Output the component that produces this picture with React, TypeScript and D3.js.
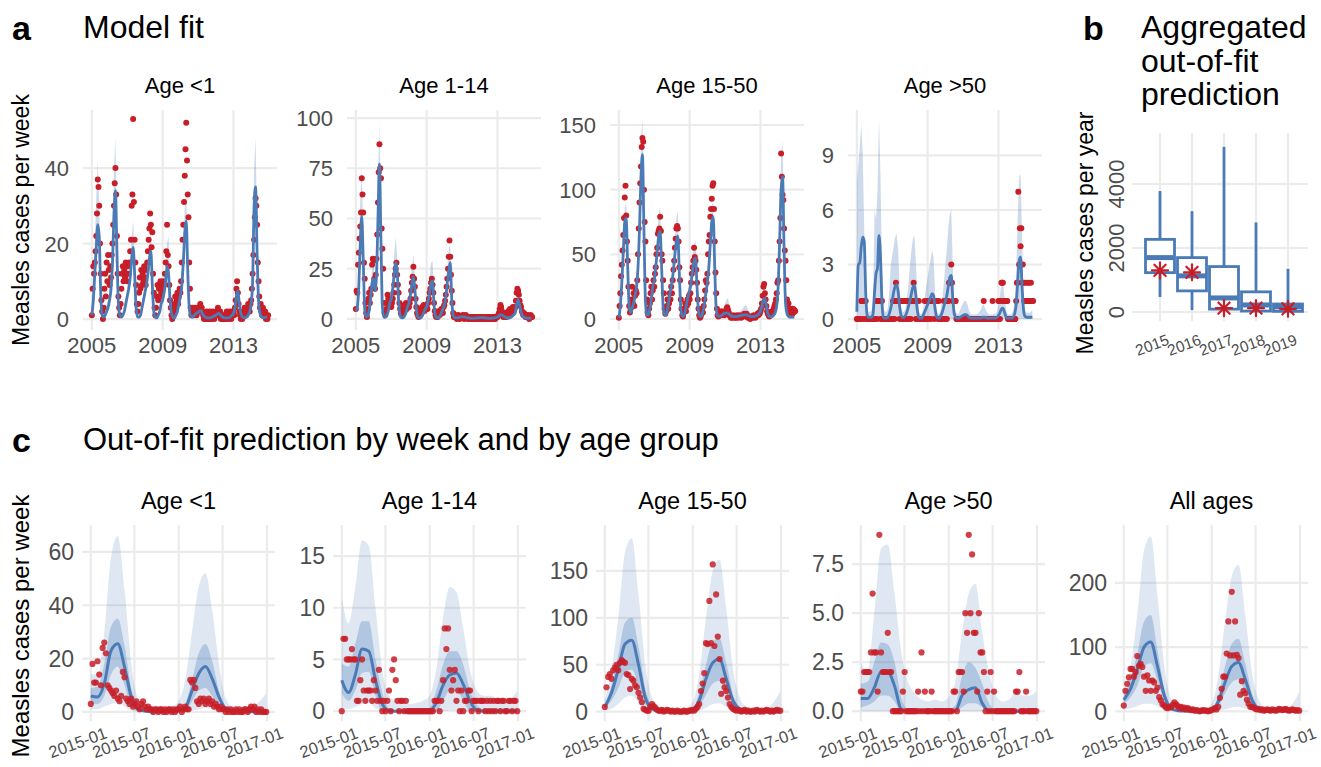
import React from 'react'
import * as d3 from 'd3'

const FONT = 'Liberation Sans, Arial, Helvetica, sans-serif'
const GRID = '#ebebeb'
const BLUE = '#4a7bb7'
const RED = '#c81e28'
const TICK = '#4d4d4d'

// ---------- panel a: model fit 2005-2014 ----------
// observed cases, read twice a month (24 per year)
const obsU1 = [
  1, 8, 14, 12, 15, 18, 22, 28, 37, 35, 30, 20, 12, 5, 2, 0, 3, 8, 12, 6, 15, 10, 17, 13,
  9, 14, 11, 17, 20, 25, 30, 36, 40, 33, 22, 12, 6, 3, 1, 4, 8, 12, 14, 10, 13, 11, 15, 12,
  10, 14, 12, 15, 18, 21, 30, 33, 53, 31, 21, 15, 9, 4, 2, 4, 7, 11, 8, 13, 9, 12, 10, 14,
  11, 9, 13, 15, 18, 21, 24, 28, 25, 19, 23, 12, 7, 3, 1, 3, 6, 9, 5, 8, 6, 10, 7, 9,
  8, 10, 9, 12, 15, 18, 25, 17, 14, 9, 5, 3, 1, 0, 1, 2, 4, 6, 3, 5, 7, 4, 6, 8,
  7, 10, 15, 21, 25, 31, 38, 45, 52, 42, 33, 27, 15, 8, 3, 1, 2, 3, 1, 2, 3, 2, 1, 3,
  2, 3, 2, 4, 3, 3, 2, 1, 0, 1, 0, 1, 2, 0, 1, 0, 2, 1, 0, 1, 2, 1, 0, 1,
  1, 2, 1, 3, 2, 1, 2, 0, 1, 0, 1, 0, 0, 1, 0, 2, 1, 0, 1, 2, 1, 0, 2, 1,
  2, 1, 3, 5, 8, 10, 7, 4, 2, 1, 0, 1, 0, 2, 1, 3, 2, 1, 3, 2, 4, 3, 2, 4,
  5, 8, 12, 17, 21, 27, 32, 30, 25, 15, 10, 6, 3, 4, 2, 1, 3, 2, 1, 2, 0, 1, 0, 1
]
// model fit and upper band, monthly
const fitU1 = [
  1, 5, 12, 19, 25, 22, 7, 1, 0.5, 1, 2, 3,
  5, 8, 15, 28, 34, 18, 4, 1, 0.5, 1, 2, 4,
  6, 8, 11, 16, 19, 12, 3, 0.5, 0.5, 1, 3, 5,
  7, 9, 12, 16, 18, 9, 2, 0.5, 0.3, 1, 2, 4,
  5, 7, 10, 14, 12, 5, 1.5, 0.5, 0.3, 1, 2, 4,
  6, 9, 15, 23, 26, 13, 3, 0.8, 0.5, 0.8, 1.2, 1.6,
  1.8, 2.1, 2.2, 1.5, 0.8, 0.5, 0.3, 0.3, 0.3, 0.4, 0.6, 0.8,
  1, 1.3, 1.5, 1.2, 0.7, 0.4, 0.3, 0.3, 0.3, 0.4, 0.6, 1,
  1.5, 3, 6, 7.5, 4, 1.5, 0.6, 0.4, 0.4, 0.6, 1, 2,
  4, 10, 30, 35, 18, 5, 1.5, 0.6, 0.4, 0.4, 0.5, 0.5
]
const hiU1 = [
  3, 10, 20, 32, 42, 30, 10, 2, 1, 2, 4, 5,
  8, 12, 22, 40, 48, 25, 6, 2, 1, 2, 4, 6,
  8, 11, 15, 22, 26, 16, 5, 1, 1, 2, 4, 7,
  9, 12, 15, 20, 23, 12, 3, 1, 1, 2, 3, 5,
  7, 9, 13, 20, 22, 8, 2.5, 1, 1, 2, 3, 5,
  8, 12, 19, 30, 33, 17, 4, 1.5, 1, 1.5, 2.5, 3.5,
  4, 5, 4.5, 2.5, 1.5, 1, 0.8, 0.8, 0.8, 1, 1.5, 2,
  2.5, 3.5, 3.7, 2.5, 1.5, 1, 0.8, 0.8, 0.8, 1, 1.5, 2,
  3, 5, 8, 8.5, 5.5, 2.5, 1.2, 0.8, 0.8, 1.2, 2, 3,
  7, 16, 40, 48, 25, 8, 2.5, 1.2, 0.8, 0.8, 1, 1
]

const obs114 = [
  5, 14, 13, 27, 33, 40, 46, 53, 70, 62, 53, 28, 20, 8, 3, 1, 5, 10, 13, 8, 12, 15, 27, 30,
  29, 20, 15, 22, 30, 42, 58, 73, 87, 75, 70, 45, 35, 25, 8, 3, 2, 5, 8, 12, 10, 6, 9, 7,
  6, 8, 10, 13, 17, 22, 25, 28, 22, 17, 13, 8, 5, 3, 2, 3, 5, 7, 4, 6, 8, 5, 7, 6,
  6, 8, 10, 14, 18, 21, 26, 20, 16, 10, 6, 3, 2, 1, 2, 3, 5, 4, 6, 5, 7, 4, 6, 5,
  6, 5, 8, 10, 13, 15, 18, 20, 17, 13, 8, 4, 2, 1, 2, 1, 3, 4, 2, 3, 5, 4, 3, 6,
  7, 9, 12, 16, 20, 25, 31, 39, 31, 22, 14, 8, 3, 1, 1, 2, 1, 0, 1, 2, 1, 0, 1, 1,
  1, 2, 1, 0, 1, 2, 1, 1, 0, 1, 0, 1, 1, 0, 1, 0, 1, 1, 0, 1, 0, 1, 0, 1,
  0, 1, 1, 0, 1, 0, 1, 0, 0, 1, 0, 1, 0, 1, 0, 1, 0, 0, 1, 0, 1, 0, 1, 1,
  1, 2, 3, 5, 7, 6, 4, 2, 1, 2, 1, 3, 2, 1, 2, 4, 3, 5, 4, 3, 5, 6, 4, 5,
  6, 9, 13, 15, 14, 12, 9, 7, 6, 4, 3, 2, 3, 2, 1, 2, 1, 2, 1, 0, 1, 2, 1, 1
]
const fit114 = [
  4, 6, 16, 38, 51, 30, 5, 1, 1.5, 4, 10, 18,
  20, 14, 22, 50, 77, 40, 6, 1, 0.8, 2, 4, 8,
  10, 15, 22, 28, 24, 9, 2, 0.5, 0.5, 1.5, 3, 6,
  8, 12, 17, 21, 15, 5, 1, 0.5, 0.5, 1.5, 3, 5,
  6, 9, 13, 18, 19, 7, 1.5, 0.5, 0.5, 1.5, 3, 5,
  7, 11, 18, 24, 28, 10, 2, 0.6, 0.5, 0.6, 0.8, 1,
  1, 1, 0.9, 0.7, 0.5, 0.4, 0.3, 0.3, 0.3, 0.4, 0.5, 0.6,
  0.6, 0.7, 0.7, 0.6, 0.5, 0.4, 0.3, 0.3, 0.3, 0.4, 0.5, 0.7,
  1, 1.5, 2.2, 2, 1.5, 1, 0.7, 0.6, 0.6, 0.8, 1.2, 2,
  3, 7, 9.6, 7, 3.5, 1.5, 0.8, 0.5, 0.4, 0.4, 0.4, 0.4
]
const hi114 = [
  6, 10, 25, 60, 76, 40, 8, 2, 3, 6, 15, 25,
  28, 20, 30, 70, 97, 55, 10, 2, 1.5, 3, 6, 12,
  15, 22, 32, 41, 32, 12, 3, 1, 1, 2.5, 5, 9,
  12, 18, 26, 32, 22, 7, 2, 1, 1, 2.5, 5, 8,
  9, 14, 20, 28, 29, 10, 2.5, 1, 1, 2.5, 5, 8,
  10, 16, 25, 35, 37, 14, 3, 1.2, 1, 1.2, 1.5, 1.8,
  1.8, 1.8, 1.6, 1.3, 1, 0.8, 0.6, 0.6, 0.6, 0.8, 1, 1.2,
  1.2, 1.3, 1.3, 1.1, 0.9, 0.7, 0.6, 0.6, 0.6, 0.8, 1, 1.3,
  1.8, 2.6, 3.6, 3.2, 2.5, 1.8, 1.2, 1, 1, 1.4, 2, 3.2,
  6, 11, 13, 11, 6, 2.5, 1.4, 0.9, 0.7, 0.7, 0.7, 0.7
]

const obs1550 = [
  1, 10, 20, 33, 42, 53, 65, 78, 94, 103, 80, 60, 45, 25, 10, 5, 8, 15, 25, 12, 20, 10, 18, 22,
  20, 30, 50, 70, 90, 105, 118, 133, 140, 137, 100, 75, 60, 30, 15, 5, 3, 8, 12, 20, 25, 15, 22, 30,
  25, 35, 40, 50, 55, 66, 68, 70, 79, 68, 50, 45, 30, 20, 8, 4, 6, 10, 15, 8, 12, 20, 15, 25,
  20, 30, 38, 45, 55, 62, 70, 72, 70, 60, 40, 30, 15, 8, 3, 2, 5, 8, 12, 6, 10, 15, 12, 18,
  15, 20, 28, 35, 40, 45, 55, 48, 45, 38, 28, 15, 8, 3, 1, 2, 4, 8, 5, 10, 15, 22, 30, 28,
  35, 50, 60, 65, 79, 85, 93, 103, 105, 85, 60, 36, 20, 8, 3, 2, 5, 3, 4, 6, 3, 4, 5, 3,
  5, 6, 8, 9, 7, 5, 3, 2, 1, 2, 1, 3, 2, 1, 2, 1, 3, 2, 1, 2, 3, 2, 1, 2,
  2, 3, 4, 3, 2, 4, 3, 1, 2, 1, 0, 2, 1, 2, 1, 3, 2, 1, 2, 3, 4, 3, 5, 4,
  6, 8, 12, 18, 25, 27, 20, 15, 10, 6, 4, 3, 2, 5, 3, 4, 6, 5, 8, 10, 12, 15, 20, 28,
  30, 45, 60, 78, 128, 110, 96, 92, 70, 53, 45, 30, 15, 10, 12, 5, 8, 3, 6, 4, 8, 5, 7, 6
]
const fit1550 = [
  1, 10, 28, 52, 75, 78, 40, 10, 5, 8, 12, 18,
  25, 40, 70, 110, 127, 70, 15, 3, 3, 8, 15, 25,
  30, 40, 52, 64, 68, 40, 10, 3, 3, 8, 15, 22,
  28, 38, 50, 60, 64, 35, 8, 2, 2, 6, 12, 18,
  22, 28, 38, 45, 47, 25, 6, 2, 2, 6, 12, 20,
  28, 40, 58, 75, 79, 40, 8, 2.5, 2, 2.5, 3, 4,
  4.5, 4.6, 4.5, 3.5, 2.5, 2, 1.8, 1.8, 2, 2.2, 2.5, 2.8,
  3, 3.2, 3.3, 3, 2.5, 2, 1.8, 1.8, 2, 2.5, 3, 4,
  6, 10, 15, 16, 10, 4, 2, 1.8, 2, 3, 5, 10,
  25, 60, 100, 110, 55, 12, 4, 2, 1.5, 1.5, 1.5, 1.5
]
const hi1550 = [
  2, 14, 35, 62, 86, 90, 48, 14, 8, 12, 17, 24,
  32, 50, 88, 138, 154, 88, 20, 5, 5, 11, 20, 32,
  38, 50, 64, 82, 87, 50, 13, 5, 5, 11, 20, 28,
  35, 48, 62, 78, 83, 45, 11, 4, 4, 9, 16, 24,
  28, 36, 48, 58, 61, 32, 9, 4, 4, 9, 16, 26,
  36, 50, 72, 88, 90, 50, 11, 5, 4, 5, 6, 8,
  12, 15, 16, 10, 6, 4.5, 4, 4, 4.5, 5, 6, 7,
  8, 10, 11, 9, 6, 4.5, 4, 4, 4.5, 5.5, 7, 9,
  10, 16, 24, 25, 16, 7, 4, 3.5, 4, 6, 9, 15,
  35, 80, 125, 138, 70, 16, 6, 4, 3, 3, 3, 3
]

const obs50 = [
  0, 0, 0, 0, 0, 0, 1, 1, 1, 0, 1, 1, 1, 0, 0, 0, 0, 0, 0, 0, 0, 0, 0, 0,
  0, 0, 1, 0, 1, 1, 1, 1, 0, 1, 1, 0, 0, 0, 0, 0, 0, 0, 0, 0, 0, 0, 0, 0,
  0, 1, 1, 0, 1, 2, 1, 1, 1, 1, 0, 1, 1, 0, 1, 0, 1, 1, 0, 1, 0, 1, 1, 0,
  1, 0, 1, 1, 1, 2, 1, 1, 0, 1, 1, 0, 1, 0, 0, 0, 0, 0, 0, 0, 1, 0, 0, 1,
  1, 0, 1, 1, 0, 1, 1, 1, 1, 0, 1, 1, 1, 1, 0, 1, 0, 0, 0, 0, 0, 0, 1, 0,
  1, 1, 0, 1, 1, 2, 2, 2, 3, 2, 1, 1, 1, 1, 1, 0, 0, 0, 0, 0, 0, 0, 0, 0,
  0, 0, 0, 0, 0, 0, 0, 0, 0, 0, 0, 0, 0, 0, 0, 0, 0, 0, 0, 0, 0, 0, 0, 0,
  0, 0, 0, 0, 1, 0, 0, 0, 0, 0, 0, 0, 0, 0, 0, 0, 1, 0, 0, 0, 0, 0, 0, 0,
  1, 1, 0, 1, 2, 2, 2, 1, 1, 1, 1, 1, 1, 0, 0, 0, 0, 0, 0, 0, 0, 0, 0, 0,
  1, 2, 2, 7, 3, 5, 4, 5, 2, 3, 2, 1, 2, 1, 1, 2, 1, 2, 1, 1, 2, 1, 1, 1
]
const fit50 = [
  0.4, 3, 3.1, 4, 4.5, 4.3, 1.5, 0.2, 0.1, 0.1, 0.1, 0.3,
  1.5, 2.5, 2.8, 4.6, 3.5, 1, 0.1, 0.05, 0.05, 0.1, 0.3, 0.6,
  1, 1.5, 1.8, 1.9, 1.5, 0.7, 0.2, 0.1, 0.1, 0.2, 0.4, 0.7,
  1, 1.4, 1.75, 1.85, 1.3, 0.5, 0.1, 0.05, 0.05, 0.2, 0.4, 0.6,
  0.8, 1, 1.2, 1.4, 1.3, 0.6, 0.15, 0.05, 0.05, 0.2, 0.4, 0.7,
  1, 1.3, 1.8, 2.3, 2.4, 1.2, 0.3, 0.1, 0.05, 0.05, 0.1, 0.15,
  0.2, 0.25, 0.25, 0.2, 0.1, 0.05, 0.05, 0.05, 0.05, 0.05, 0.05, 0.05,
  0.05, 0.1, 0.1, 0.1, 0.05, 0.05, 0.05, 0.05, 0.05, 0.05, 0.05, 0.1,
  0.2, 0.35, 0.55, 0.6, 0.4, 0.15, 0.05, 0.05, 0.05, 0.05, 0.1, 0.3,
  0.8, 2, 3.2, 3.4, 1.8, 0.5, 0.15, 0.1, 0.1, 0.1, 0.1, 0.1
]
const hi50 = [
  7.6, 8.5, 9.5, 10.7, 9, 5, 1.5, 0.5, 0.4, 0.4, 0.5, 1,
  6, 5.5, 7, 11, 8, 3, 0.6, 0.4, 0.4, 0.6, 1.5, 3,
  3.5, 4, 4.5, 4.7, 3.8, 1.8, 0.6, 0.4, 0.4, 0.6, 1.2, 2,
  3, 3.8, 4.4, 4.6, 3.2, 1.3, 0.4, 0.3, 0.3, 0.6, 1.2, 1.8,
  2.3, 2.8, 3.3, 3.8, 3.4, 1.5, 0.5, 0.3, 0.3, 0.6, 1.2, 2,
  3, 3.8, 5, 5.8, 6, 3, 0.8, 0.4, 0.3, 0.3, 0.5, 0.7,
  0.9, 1, 1, 0.8, 0.5, 0.3, 0.25, 0.25, 0.25, 0.25, 0.3, 0.4,
  0.5, 0.75, 0.8, 0.6, 0.4, 0.3, 0.25, 0.25, 0.25, 0.3, 0.3, 0.4,
  0.8, 1.3, 1.9, 2, 1.3, 0.6, 0.3, 0.25, 0.25, 0.3, 0.5, 1,
  2.5, 5.5, 7.8, 8, 4.5, 1.5, 0.5, 0.35, 0.35, 0.35, 0.4, 0.5
]
const yearTicks = [2005, 2009, 2013]

// ---------- panel b: yearly totals 2015-2019 ----------
const boxYears = ['2015', '2016', '2017', '2018', '2019']
const boxLow = [470, 60, 0, 0, 0]
const boxQ1 = [1230, 660, 90, 30, 20]
const boxMed = [1700, 1130, 440, 220, 160]
const boxQ3 = [2270, 1700, 1420, 630, 250]
const boxHigh = [3780, 3150, 5160, 2800, 1350]
const boxObs = [1300, 1240, 120, 120, 100]
const boxTicks = [0, 2000, 4000]

// ---------- panel c: weekly prediction 2015-2016 ----------
// observed weekly cases (weeks 0-104 from 2015-01-01)
const obsCU1 = [
  3, 18, 11, 11, 19, 14, 10, 24, 26, 22, 10, 9, 8, 7, 6, 8, 5, 4, 6, 15,
  13, 5, 4, 3, 5, 2, 3, 4, 2, 1, 3, 4, 2, 1, 2, 1, 1, 0, 1, 1,
  0, 1, 1, 0, 1, 0, 1, 1, 0, 1, 0, 1, 1, 2, 0, 1, 2, 1, 1, 12,
  11, 12, 9, 4, 3, 5, 4, 5, 3, 4, 5, 3, 4, 2, 3, 2, 1, 2, 1, 1,
  0, 1, 0, 1, 0, 0, 1, 0, 1, 0, 0, 1, 1, 0, 1, 2, 1, 2, 0, 1,
  0, 1, 0, 0, 0
]
const obsC114 = [
  0, 7, 7, 5, 5, 5, 6, 5, 5, 1, 1, 3, 5, 2, 1, 2, 2, 2, 1, 3,
  2, 1, 4, 1, 0, 1, 0, 1, 2, 0, 4, 5, 3, 1, 0, 1, 1, 0, 1, 0,
  0, 0, 0, 0, 0, 0, 0, 0, 0, 0, 0, 0, 0, 0, 0, 1, 1, 1, 0, 1,
  3, 8, 6, 8, 4, 2, 3, 4, 1, 2, 0, 2, 0, 1, 1, 2, 2, 0, 1, 1,
  1, 0, 1, 1, 1, 0, 1, 0, 1, 0, 1, 0, 1, 1, 0, 1, 1, 0, 0, 1,
  1, 0, 1, 1, 0
]
const obsC1550 = [
  5, 26, 37, 40, 35, 44, 47, 50, 44, 52, 55, 53, 52, 40, 39, 24, 35, 33, 28, 26,
  20, 15, 10, 3, 2, 1, 1, 5, 8, 6, 4, 2, 1, 1, 2, 0, 1, 2, 1, 0,
  1, 0, 0, 1, 0, 0, 0, 1, 0, 0, 1, 1, 2, 1, 3, 5, 8, 22, 30, 41,
  73, 72, 118, 73, 157, 70, 125, 80, 56, 19, 33, 26, 22, 15, 8, 5, 3, 2, 1, 2,
  1, 0, 1, 2, 0, 1, 0, 0, 1, 0, 2, 1, 0, 1, 0, 1, 2, 1, 0, 1,
  0, 1, 2, 1, 1
]
const obsC50 = [
  1, 1, 2, 2, 2, 2, 3, 6, 3, 3, 1, 9, 3, 2, 2, 2, 4, 2, 2, 0,
  0, 0, 0, 0, 0, 1, 2, 0, 0, 0, 0, 0, 0, 0, 1, 0, 3, 0, 1, 0,
  0, 0, 1, 0, 0, 0, 0, 0, 0, 0, 0, 0, 0, 0, 0, 1, 1, 0, 2, 2,
  2, 1, 5, 4, 9, 5, 8, 4, 4, 1, 5, 3, 3, 2, 0, 1, 0, 2, 0, 1,
  0, 0, 0, 0, 0, 0, 0, 0, 0, 0, 0, 0, 1, 1, 2, 0, 0, 0, 1, 0,
  0, 0, 0, 0, 0
]
const obsCAll = [
  9, 32, 43, 53, 66, 66, 54, 61, 86, 71, 74, 69, 54, 32, 56, 48, 32, 48, 45, 32,
  37, 22, 17, 11, 9, 6, 5, 7, 6, 10, 14, 11, 8, 5, 7, 4, 6, 3, 5, 3,
  2, 3, 1, 2, 1, 0, 1, 2, 1, 1, 0, 1, 2, 3, 5, 3, 7, 21, 35, 54,
  54, 90, 140, 87, 186, 87, 140, 88, 83, 26, 47, 32, 28, 18, 12, 7, 7, 6, 4, 3,
  4, 2, 3, 1, 2, 3, 2, 1, 3, 2, 1, 2, 4, 3, 2, 3, 4, 2, 1, 2,
  3, 2, 1, 2, 1
]
// predicted median and 50% / 95% intervals, every 4 weeks (weeks 0-104)
const fitCU1 = [6, 5.6, 10.6, 23, 25.6, 17, 5.6, 1, 0.3, 0.1, 0.1, 0.1, 0.1, 0.3, 1.5, 8, 14.4, 17, 12.5, 5.6, 1.2, 0.2, 0.1, 0.1, 0.1, 0.1, 0.1]
const hi50CU1 = [9, 9.5, 18, 32, 35, 25, 9, 2, 0.5, 0.3, 0.3, 0.3, 0.3, 0.6, 3, 12, 22, 25.5, 19, 8, 2, 0.5, 0.3, 0.3, 0.3, 0.3, 0.3]
const lo50CU1 = [3, 3, 6, 14, 17, 10, 2, 0.2, 0, 0, 0, 0, 0, 0, 0.5, 4, 8, 9, 6, 2, 0.2, 0, 0, 0, 0, 0, 0]
const hi95CU1 = [14, 14, 30, 58, 66, 46, 18, 5, 2, 1.5, 1.5, 1.5, 2, 4, 12, 30, 47, 52, 38, 18, 5, 2, 1.5, 1.5, 2, 4, 7]
const lo95CU1 = [1, 1, 2, 3, 3.5, 2, 0.5, 0, 0, 0, 0, 0, 0, 0, 0, 0.5, 1, 1.5, 1, 0, 0, 0, 0, 0, 0, 0, 0]

const fitC114 = [3, 1.8, 3.5, 6, 5.8, 3, 0.7, 0.05, 0, 0, 0, 0, 0, 0.05, 0.8, 2.5, 3.5, 3.7, 2.6, 1, 0.1, 0, 0, 0, 0, 0, 0]
const hi50C114 = [4.6, 4.3, 6.5, 8.7, 8.7, 5, 1.8, 0.3, 0.1, 0.1, 0.1, 0.1, 0.1, 0.3, 2, 4.5, 5.8, 5.8, 4.5, 2, 0.6, 0.2, 0.2, 0.2, 0.2, 0.2, 0.2]
const lo50C114 = [1.7, 1, 2, 3.7, 3.8, 1.5, 0, 0, 0, 0, 0, 0, 0, 0, 0, 1, 2, 2, 1, 0, 0, 0, 0, 0, 0, 0, 0]
const hi95C114 = [11, 8.5, 12, 16.5, 16, 10, 4, 1.5, 1, 1, 0.7, 0.8, 1, 1.5, 4, 9, 12, 11.5, 8, 4, 2, 1.5, 1.5, 1.2, 1, 1.2, 2]
const lo95C114 = [0.3, 0.2, 0.4, 0.7, 0.8, 0.3, 0, 0, 0, 0, 0, 0, 0, 0, 0, 0, 0.1, 0.1, 0, 0, 0, 0, 0, 0, 0, 0, 0]

const fitC1550 = [5, 20, 45, 72, 76, 50, 15, 3, 0.5, 0.3, 0.3, 0.3, 0.3, 2, 12, 35, 52, 56, 35, 12, 3, 1, 0.5, 0.5, 0.5, 0.5, 0.5]
const hi50C1550 = [7, 28, 60, 95, 100, 70, 25, 6, 1, 0.5, 0.5, 0.5, 0.5, 3, 20, 50, 75, 78, 52, 18, 5, 1.5, 1, 1, 1, 1, 1]
const lo50C1550 = [3, 12, 25, 42, 45, 28, 8, 1, 0, 0, 0, 0, 0, 0.5, 6, 18, 30, 33, 20, 6, 1, 0, 0, 0, 0, 0, 0]
const hi95C1550 = [12, 45, 100, 170, 185, 125, 50, 15, 5, 3, 3, 3, 4, 10, 40, 100, 150, 162, 110, 45, 15, 5, 3, 3, 4, 10, 22]
const lo95C1550 = [1, 3, 8, 15, 17, 10, 3, 0, 0, 0, 0, 0, 0, 0, 1, 4, 8, 9, 5, 1, 0, 0, 0, 0, 0, 0, 0]

const fitC50 = [0.65, 0.65, 1.2, 2, 2, 1.3, 0.1, 0, 0, 0, 0, 0, 0, 0, 0, 0.8, 1.1, 1.2, 0.4, 0, 0, 0, 0, 0, 0, 0, 0]
const hi50C50 = [1.4, 1.5, 2.5, 3.5, 3.4, 2.5, 0.7, 0.1, 0.1, 0.1, 0.1, 0.1, 0.1, 0.1, 0.3, 1.8, 2.5, 2.2, 1.4, 0.4, 0.1, 0.1, 0.1, 0.1, 0.1, 0.1, 0.1]
const lo50C50 = [0.2, 0.3, 0.5, 0.8, 0.8, 0.5, 0, 0, 0, 0, 0, 0, 0, 0, 0, 0.2, 0.4, 0.4, 0.2, 0, 0, 0, 0, 0, 0, 0, 0]
const hi95C50 = [2.5, 2, 5, 8.3, 8.5, 6, 3, 1.5, 0.9, 0.6, 0.5, 0.6, 0.5, 0.7, 1.5, 4, 6, 6.5, 4, 2, 0.8, 0.5, 0.6, 1, 0.8, 0.8, 1]
const lo95C50 = [0, 0, 0, 0, 0, 0, 0, 0, 0, 0, 0, 0, 0, 0, 0, 0, 0, 0, 0, 0, 0, 0, 0, 0, 0, 0, 0]

const fitCAll = [18, 35, 65, 100, 108, 70, 25, 5, 1, 0.5, 0.5, 0.5, 0.5, 2, 15, 45, 70, 76, 50, 18, 4, 1, 0.5, 0.5, 0.5, 0.5, 0.5]
const hi50CAll = [25, 50, 90, 140, 150, 95, 35, 8, 2, 1, 1, 1, 1, 3, 25, 70, 105, 113, 75, 28, 7, 2, 1, 1, 1, 1, 1]
const lo50CAll = [12, 22, 40, 70, 75, 48, 14, 2, 0, 0, 0, 0, 0, 0.5, 7, 28, 45, 50, 30, 9, 1, 0, 0, 0, 0, 0, 0]
const hi95CAll = [30, 70, 150, 250, 272, 180, 70, 20, 6, 4, 4, 4, 5, 12, 55, 140, 210, 228, 150, 60, 18, 6, 4, 4, 5, 12, 30]
const lo95CAll = [3, 5, 8, 12, 12, 8, 3, 0.5, 0, 0, 0, 0, 0, 0, 1, 3, 6, 7, 4, 1, 0, 0, 0, 0, 0, 0, 0]

// ---------- layout ----------
const A_TOP = 110
const A_BOT = 330
const A_W = 194
const C_TOP = 525
const C_BOT = 721
const C_W = 193
const START = new Date(2015, 0, 1)
const WEEK = 7 * 24 * 3600 * 1000
const weekDate = (w: number) => new Date(START.getTime() + w * WEEK)
const cTicks = d3.timeMonth.every(6)!.range(new Date(2015, 0, 1), new Date(2017, 0, 2))
const fmtMonth = d3.timeFormat('%Y-%m')

const fitPanels = [
  { title: 'Age <1', left: 83, obs: obsU1, fit: fitU1, hi: hiU1, dom: [-2.9, 55.4], ticks: [0, 20, 40], fromZero: false },
  { title: 'Age 1-14', left: 347, obs: obs114, fit: fit114, hi: hi114, dom: [-5.5, 104], ticks: [0, 25, 50, 75, 100], fromZero: false },
  { title: 'Age 15-50', left: 610, obs: obs1550, fit: fit1550, hi: hi1550, dom: [-8.5, 161.6], ticks: [0, 50, 100, 150], fromZero: false },
  { title: 'Age >50', left: 848, obs: obs50, fit: fit50, hi: hi50, dom: [-0.6, 11.5], ticks: [0, 3, 6, 9], fromZero: true }
]

const predPanels = [
  { title: 'Age <1', left: 82, obs: obsCU1, fit: fitCU1, lo50: lo50CU1, hi50: hi50CU1, lo95: lo95CU1, hi95: hi95CU1, dom: [-3.4, 70.1], ticks: [0, 20, 40, 60], fmt: d3.format('d') },
  { title: 'Age 1-14', left: 333, obs: obsC114, fit: fitC114, lo50: lo50C114, hi50: hi50C114, lo95: lo95C114, hi95: hi95C114, dom: [-0.95, 18], ticks: [0, 5, 10, 15], fmt: d3.format('d') },
  { title: 'Age 15-50', left: 596, obs: obsC1550, fit: fitC1550, lo50: lo50C1550, hi50: hi50C1550, lo95: lo95C1550, hi95: hi95C1550, dom: [-10, 199], ticks: [0, 50, 100, 150], fmt: d3.format('d') },
  { title: 'Age >50', left: 852, obs: obsC50, fit: fitC50, lo50: lo50C50, hi50: hi50C50, lo95: lo95C50, hi95: hi95C50, dom: [-0.5, 9.5], ticks: [0, 2.5, 5, 7.5], fmt: d3.format('.1f') },
  { title: 'All ages', left: 1115, obs: obsCAll, fit: fitCAll, lo50: lo50CAll, hi50: hi50CAll, lo95: lo95CAll, hi95: hi95CAll, dom: [-15, 290], ticks: [0, 100, 200], fmt: d3.format('d') }
]

const FitPanel = ({ p }: { p: any }) => {
  const x = d3.scaleLinear().domain([2004.5, 2015.46]).range([p.left, p.left + A_W])
  const y = d3.scaleLinear().domain(p.dom).range([A_BOT, A_TOP])
  const fx = (i: number) => x(2005 + i / 12)
  const ox = (i: number) => x(2005 + i / 24)
  const band = d3
    .area<number>()
    .x((_, i) => fx(i))
    .y0((_, i) => (p.fromZero ? y(0) : y(p.fit[i])))
    .y1(d => y(d))
  const line = d3.line<number>().x((_, i) => fx(i)).y(d => y(d)).curve(d3.curveMonotoneX)
  return (
    <g>
      {p.ticks.map((t: number) => (
        <line key={'gy' + t} x1={p.left} x2={p.left + A_W} y1={y(t)} y2={y(t)} stroke={GRID} strokeWidth={2.2} />
      ))}
      {yearTicks.map(t => (
        <line key={'gx' + t} x1={x(t)} x2={x(t)} y1={A_TOP} y2={A_BOT} stroke={GRID} strokeWidth={2.2} />
      ))}
      <path d={band(p.hi) || ''} fill={BLUE} fillOpacity={0.28} />
      {p.obs.map((v: number, i: number) => (
        <circle key={i} cx={ox(i)} cy={y(v)} r={3} fill={RED} />
      ))}
      <path d={line(p.fit) || ''} fill="none" stroke={BLUE} strokeWidth={2.8} strokeLinejoin="round" />
      {p.ticks.map((t: number) => (
        <text key={'ly' + t} x={p.left - 14} y={y(t)} dy="0.36em" textAnchor="end" fontSize={22} fill={TICK}>{t}</text>
      ))}
      {yearTicks.map(t => (
        <text key={'lx' + t} x={x(t)} y={353} textAnchor="middle" fontSize={22} fill={TICK}>{t}</text>
      ))}
      <text x={p.left + A_W / 2} y={93} textAnchor="middle" fontSize={22}>{p.title}</text>
    </g>
  )
}

const PredPanel = ({ p }: { p: any }) => {
  const x = d3.scaleTime().domain([weekDate(-5.2), weekDate(109.2)]).range([p.left, p.left + C_W])
  const y = d3.scaleLinear().domain(p.dom).range([C_BOT, C_TOP])
  const bx = (i: number) => x(weekDate(i * 4))
  const band = (lo: number[]) =>
    d3.area<number>().x((_, i) => bx(i)).y0((_, i) => y(lo[i])).y1(d => y(d)).curve(d3.curveMonotoneX)
  const line = d3.line<number>().x((_, i) => bx(i)).y(d => y(d)).curve(d3.curveMonotoneX)
  return (
    <g>
      {p.ticks.map((t: number) => (
        <line key={'gy' + t} x1={p.left} x2={p.left + C_W} y1={y(t)} y2={y(t)} stroke={GRID} strokeWidth={2.2} />
      ))}
      {cTicks.map(t => (
        <line key={'gx' + +t} x1={x(t)} x2={x(t)} y1={C_TOP} y2={C_BOT} stroke={GRID} strokeWidth={2.2} />
      ))}
      <path d={band(p.lo95)(p.hi95) || ''} fill={BLUE} fillOpacity={0.18} />
      <path d={band(p.lo50)(p.hi50) || ''} fill={BLUE} fillOpacity={0.3} />
      <path d={line(p.fit) || ''} fill="none" stroke={BLUE} strokeWidth={3} strokeLinejoin="round" />
      {p.obs.map((v: number, i: number) => (
        <circle key={i} cx={x(weekDate(i))} cy={y(v)} r={3.1} fill={RED} fillOpacity={0.85} />
      ))}
      {p.ticks.map((t: number) => (
        <text key={'ly' + t} x={p.left - 8} y={y(t)} dy="0.36em" textAnchor="end" fontSize={23} fill={TICK}>{p.fmt(t)}</text>
      ))}
      {cTicks.map(t => (
        <text key={'lx' + +t} transform={`translate(${x(t) - 11},748) rotate(-20)`} textAnchor="middle" fontSize={16.5} fill={TICK}>
          {fmtMonth(t)}
        </text>
      ))}
      <text x={p.left + C_W / 2} y={509} textAnchor="middle" fontSize={23.5}>{p.title}</text>
    </g>
  )
}

const Asterisk = ({ cx, cy, r }: { cx: number; cy: number; r: number }) => {
  const d = r * Math.SQRT1_2
  return (
    <g stroke={RED} strokeWidth={2.2} strokeLinecap="round">
      <line x1={cx} x2={cx} y1={cy - r} y2={cy + r} />
      <line x1={cx - r} x2={cx + r} y1={cy} y2={cy} />
      <line x1={cx - d} x2={cx + d} y1={cy - d} y2={cy + d} />
      <line x1={cx - d} x2={cx + d} y1={cy + d} y2={cy - d} />
    </g>
  )
}

const BoxPanel = () => {
  const x = d3.scalePoint<string>().domain(boxYears).range([1160, 1288])
  const y = d3.scaleLinear().domain([-281, 5594]).range([321, 133])
  const bw = 29
  return (
    <g>
      {boxTicks.map(t => (
        <line key={'gy' + t} x1={1132} x2={1308} y1={y(t)} y2={y(t)} stroke={GRID} strokeWidth={2.2} />
      ))}
      {boxYears.map(yr => (
        <line key={'gx' + yr} x1={x(yr)} x2={x(yr)} y1={133} y2={321} stroke={GRID} strokeWidth={2.2} />
      ))}
      {boxYears.map((yr, i) => {
        const cx = x(yr) as number
        return (
          <g key={yr} stroke={BLUE} strokeWidth={2.8}>
            <line x1={cx} x2={cx} y1={y(boxQ3[i])} y2={y(boxHigh[i])} />
            <line x1={cx} x2={cx} y1={y(boxQ1[i])} y2={y(boxLow[i])} />
            <rect x={cx - bw / 2} y={y(boxQ3[i])} width={bw} height={y(boxQ1[i]) - y(boxQ3[i])} fill="#fff" />
            <line x1={cx - bw / 2} x2={cx + bw / 2} y1={y(boxMed[i])} y2={y(boxMed[i])} strokeWidth={5} />
          </g>
        )
      })}
      {boxYears.map((yr, i) => (
        <Asterisk key={'s' + yr} cx={x(yr) as number} cy={y(boxObs[i])} r={8} />
      ))}
      {boxTicks.map(t => (
        <text key={'ly' + t} transform={`translate(1124,${y(t)}) rotate(-90)`} textAnchor="middle" fontSize={22} fill={TICK}>{t}</text>
      ))}
      {boxYears.map(yr => (
        <text key={'lx' + yr} transform={`translate(${(x(yr) as number) - 6},350) rotate(-20)`} textAnchor="middle" fontSize={15.5} fill={TICK}>{yr}</text>
      ))}
      <text transform="translate(1093,233) rotate(-90)" textAnchor="middle" fontSize={23}>Measles cases per year</text>
    </g>
  )
}

export default function App() {
  return (
    <svg width={1321} height={767} style={{ position: 'absolute', left: 0, top: 0, background: '#fff' }} fontFamily={FONT}>
      <rect width={1321} height={767} fill="#fff" />
      <text x={12} y={40} fontSize={34} fontWeight="bold">a</text>
      <text x={83} y={38} fontSize={32}>Model fit</text>
      <text transform="translate(29,220) rotate(-90)" textAnchor="middle" fontSize={23}>Measles cases per week</text>
      {fitPanels.map(p => <FitPanel key={p.title} p={p} />)}

      <text x={1083} y={40} fontSize={34} fontWeight="bold">b</text>
      <text x={1141} y={38} fontSize={32}>Aggregated</text>
      <text x={1141} y={72} fontSize={32}>out-of-fit</text>
      <text x={1141} y={105} fontSize={32}>prediction</text>
      <BoxPanel />

      <text x={12} y={452} fontSize={34} fontWeight="bold">c</text>
      <text x={83} y={450} fontSize={31}>Out-of-fit prediction by week and by age group</text>
      <text transform="translate(29,626) rotate(-90)" textAnchor="middle" fontSize={24}>Measles cases per week</text>
      {predPanels.map(p => <PredPanel key={p.title} p={p} />)}
    </svg>
  )
}
